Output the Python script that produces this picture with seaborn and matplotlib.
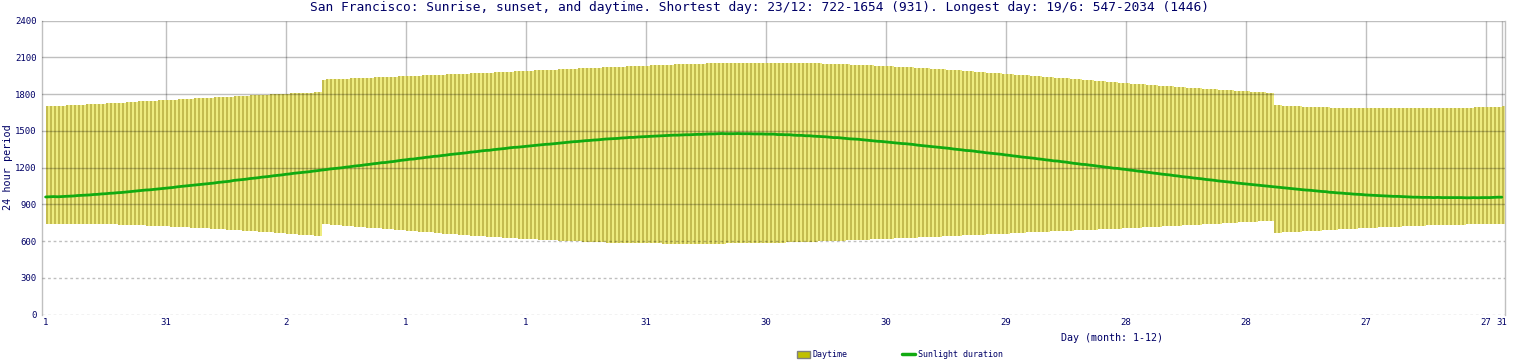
import numpy as np
import matplotlib
matplotlib.use("Agg")
import matplotlib.pyplot as plt
import seaborn as sns
from matplotlib.patches import Patch
from matplotlib.lines import Line2D

# sunrise / sunset per day, local clock time as HHMM (DST from 11/3 to 3/11)
sunrise = [
    # jan
    725, 725, 725, 726, 726, 726, 726, 726, 725, 725, 725, 725, 724, 724, 723, 723,
    722, 722, 721, 721, 720, 719, 719, 718, 717, 716, 716, 715, 714, 713, 712,
    # feb
    711, 710, 709, 708, 707, 706, 705, 704, 703, 702, 701, 700, 658, 657,
    656, 655, 653, 652, 651, 650, 648, 647, 646, 644, 643, 642, 640, 639,
    # mar
    638, 636, 635, 633, 632, 631, 629, 628, 626, 625, 723, 722, 720, 719, 717, 716,
    714, 713, 711, 710, 708, 706, 705, 703, 702, 700, 659, 657, 656, 654, 652,
    # apr
    651, 649, 648, 646, 645, 643, 642, 640, 639, 637, 636, 634, 633, 632, 630,
    629, 627, 626, 625, 623, 622, 621, 619, 618, 617, 616, 614, 613, 612, 611,
    # may
    610, 609, 608, 607, 606, 605, 604, 603, 602, 601, 600, 559, 558, 558, 557, 556,
    555, 554, 554, 553, 552, 552, 551, 551, 550, 550, 549, 549, 548, 548, 548,
    # jun
    548, 548, 548, 547, 547, 547, 547, 547, 547, 547, 547, 547, 547, 547, 547,
    547, 547, 547, 547, 548, 548, 548, 548, 549, 549, 549, 550, 550, 550, 551,
    # jul
    551, 551, 552, 552, 553, 553, 554, 555, 555, 556, 556, 557, 558, 558, 559, 600,
    601, 601, 602, 603, 604, 605, 605, 606, 607, 608, 609, 610, 610, 611, 612,
    # aug
    613, 614, 615, 615, 616, 617, 618, 619, 620, 621, 622, 622, 623, 624, 625, 626,
    627, 628, 629, 629, 630, 631, 632, 633, 634, 635, 635, 636, 637, 638, 639,
    # sep
    640, 641, 642, 642, 643, 644, 645, 646, 647, 648, 648, 649, 650, 651, 652,
    653, 654, 654, 655, 656, 657, 658, 659, 700, 701, 701, 702, 703, 704, 705,
    # oct
    706, 707, 708, 709, 710, 711, 712, 713, 714, 715, 716, 717, 718, 719, 720, 721,
    722, 723, 724, 725, 726, 727, 728, 729, 730, 731, 732, 733, 734, 735, 736,
    # nov
    737, 738, 739, 640, 641, 642, 643, 644, 645, 646, 647, 648, 649, 650, 651,
    652, 653, 655, 656, 657, 658, 659, 700, 701, 702, 703, 704, 705, 706, 707,
    # dec
    708, 709, 710, 711, 711, 712, 713, 714, 715, 715, 716, 717, 717, 718, 718, 719,
    719, 720, 720, 721, 721, 722, 722, 722, 723, 723, 724, 724, 724, 724, 725,
]

sunset = [
    # jan
    1701, 1702, 1703, 1703, 1704, 1705, 1706, 1707, 1708, 1709, 1710, 1711, 1712, 1713, 1714, 1715,
    1716, 1717, 1718, 1719, 1720, 1721, 1723, 1724, 1725, 1726, 1727, 1728, 1729, 1730, 1731,
    # feb
    1732, 1733, 1735, 1736, 1737, 1738, 1739, 1740, 1741, 1742, 1743, 1744, 1745, 1746,
    1747, 1748, 1750, 1751, 1752, 1753, 1754, 1755, 1756, 1757, 1758, 1759, 1800, 1801,
    # mar
    1802, 1803, 1804, 1805, 1806, 1807, 1807, 1808, 1809, 1810, 1911, 1912, 1913, 1914, 1914, 1915,
    1916, 1917, 1918, 1919, 1919, 1920, 1921, 1922, 1923, 1924, 1924, 1925, 1926, 1927, 1928,
    # apr
    1929, 1930, 1930, 1931, 1932, 1933, 1934, 1935, 1935, 1936, 1937, 1938, 1939, 1940, 1940,
    1941, 1942, 1943, 1944, 1945, 1946, 1946, 1947, 1948, 1949, 1950, 1951, 1952, 1952, 1953,
    # may
    1954, 1955, 1956, 1957, 1958, 1959, 1959, 2000, 2001, 2002, 2003, 2004, 2005, 2006, 2007, 2008,
    2008, 2009, 2010, 2011, 2012, 2013, 2013, 2014, 2015, 2016, 2017, 2017, 2018, 2019, 2020,
    # jun
    2021, 2022, 2023, 2023, 2024, 2025, 2026, 2026, 2027, 2028, 2028, 2029, 2030, 2030, 2031,
    2032, 2032, 2033, 2034, 2034, 2034, 2034, 2035, 2035, 2035, 2035, 2035, 2035, 2035, 2035,
    # jul
    2035, 2035, 2034, 2034, 2034, 2034, 2033, 2033, 2033, 2032, 2032, 2031, 2031, 2030, 2030, 2029,
    2028, 2028, 2027, 2026, 2025, 2025, 2024, 2023, 2022, 2021, 2020, 2019, 2018, 2017, 2016,
    # aug
    2015, 2014, 2013, 2012, 2011, 2010, 2008, 2007, 2006, 2005, 2004, 2002, 2001, 2000, 1959, 1957,
    1956, 1955, 1953, 1952, 1951, 1949, 1948, 1946, 1945, 1944, 1942, 1941, 1939, 1938, 1936,
    # sep
    1935, 1933, 1932, 1930, 1929, 1927, 1926, 1924, 1923, 1921, 1920, 1918, 1917, 1915, 1913,
    1912, 1910, 1909, 1907, 1906, 1904, 1903, 1901, 1900, 1858, 1857, 1855, 1854, 1852, 1851,
    # oct
    1849, 1848, 1846, 1845, 1843, 1842, 1840, 1839, 1838, 1836, 1835, 1833, 1832, 1831, 1829, 1828,
    1827, 1825, 1824, 1823, 1821, 1820, 1819, 1818, 1817, 1815, 1814, 1813, 1812, 1811, 1810,
    # nov
    1809, 1808, 1807, 1706, 1705, 1704, 1703, 1702, 1701, 1700, 1659, 1658, 1658, 1657, 1656,
    1655, 1655, 1654, 1654, 1653, 1653, 1652, 1652, 1651, 1651, 1651, 1650, 1650, 1650, 1650,
    # dec
    1650, 1650, 1650, 1650, 1650, 1650, 1650, 1650, 1650, 1650, 1650, 1651, 1651, 1651, 1652, 1652,
    1652, 1653, 1653, 1654, 1654, 1654, 1654, 1655, 1655, 1656, 1657, 1657, 1658, 1659, 1700,
]

tick_days = [1, 31, 61, 91, 121, 151, 181, 211, 241, 271, 301, 331, 361, 365]
tick_labels = ['1', '31', '2', '1', '1', '31', '30', '30', '29', '28', '28', '27', '27', '31']

title = ("San Francisco: Sunrise, sunset, and daytime. Shortest day: 23/12: 722-1654 (931). "
         "Longest day: 19/6: 547-2034 (1446)")

assert len(sunrise) == 365 and len(sunset) == 365


def hhmm_to_axis(vals):
    # the chart plots clock times as decimal hours * 100
    v = np.array(vals)
    return (v // 100 + (v % 100) / 60.0) * 100


rise = hhmm_to_axis(sunrise)
sets = hhmm_to_axis(sunset)
daylight = sets - rise
days = np.arange(1, len(sunrise) + 1)

sns.set_style("white")
plt.rcParams['font.family'] = ['DejaVu Sans Mono']

navy = '#000066'
grid_c = '#c0c0c0'
grid_k = (0, 0, 0, 0.25)   # darkens whatever is under it, grey on white
green = '#11aa11'

fig = plt.figure(figsize=(15.19, 3.6), dpi=100)
ax = fig.add_axes([42 / 1519, 1 - 314.5 / 360, 1463 / 1519, 293.8 / 360])

# vertical grid only shows above the bars
for d in tick_days[1:]:
    top_of_bar = sets[max(d - 2, 0):d].max()
    ax.vlines(d, top_of_bar, 2400, color=grid_c, lw=1, zorder=1)

# daytime bars: light stripe + dark stripe per day
ax.bar(days, sets - rise, bottom=rise, width=1, align='edge', color='#eeec80',
       linewidth=0, antialiased=False, zorder=2)
ax.bar(days, sets - rise, bottom=rise, width=0.5, align='edge', color='#c4bc50',
       linewidth=0, antialiased=False, zorder=3)

# horizontal grid on top of the bars
for y in range(900, 2401, 300):
    ax.axhline(y, color=grid_k, lw=1, zorder=3.5)
for y in range(0, 601, 300):
    ax.axhline(y, color=grid_k, lw=1, ls=(0, (2, 2)), zorder=3.5)

sns.lineplot(x=days, y=daylight, ax=ax, color=green, lw=2, zorder=4)

ax.set_xlim(0.1, 365.8)
ax.set_ylim(0, 2400)
ax.set_yticks(range(0, 2401, 300))
ax.set_yticklabels([str(v) for v in range(0, 2401, 300)])
ax.set_xticks(tick_days)
ax.set_xticklabels(tick_labels)
ax.tick_params(axis='both', length=0, labelsize=6.5, labelcolor=navy)
ax.tick_params(axis='y', pad=4)
ax.tick_params(axis='x', pad=2.5)
ax.set_xlabel('')
ax.set_ylabel('')

for side in ['left', 'right']:
    ax.spines[side].set_color(grid_c)
    ax.spines[side].set_linewidth(1)
ax.spines['top'].set_visible(False)
ax.spines['bottom'].set_visible(False)

fig.text(0.5, 1 - 8 / 360, title, ha='center', va='center', fontsize=9.3, color=navy)
fig.text(8 / 1519, 1 - 167 / 360, '24 hour period', rotation=90, ha='center',
         va='center', fontsize=7.3, color=navy)
fig.text(1112 / 1519, 1 - 338 / 360, 'Day (month: 1-12)', ha='center', va='center',
         fontsize=7.2, color=navy)

handles = [Patch(facecolor='#c0c000', edgecolor='#808080', linewidth=1),
           Line2D([0], [0], color=green, lw=2.5)]
fig.legend(handles, ['Daytime', 'Sunlight duration'], ncol=2, loc='center',
           bbox_to_anchor=(900 / 1519, 1 - 354.5 / 360), frameon=False, fontsize=6,
           handlelength=1.6, handleheight=0.9, handletextpad=0.35, columnspacing=6.5,
           labelcolor=navy, borderpad=0)

fig.savefig('out.png', dpi=100)
